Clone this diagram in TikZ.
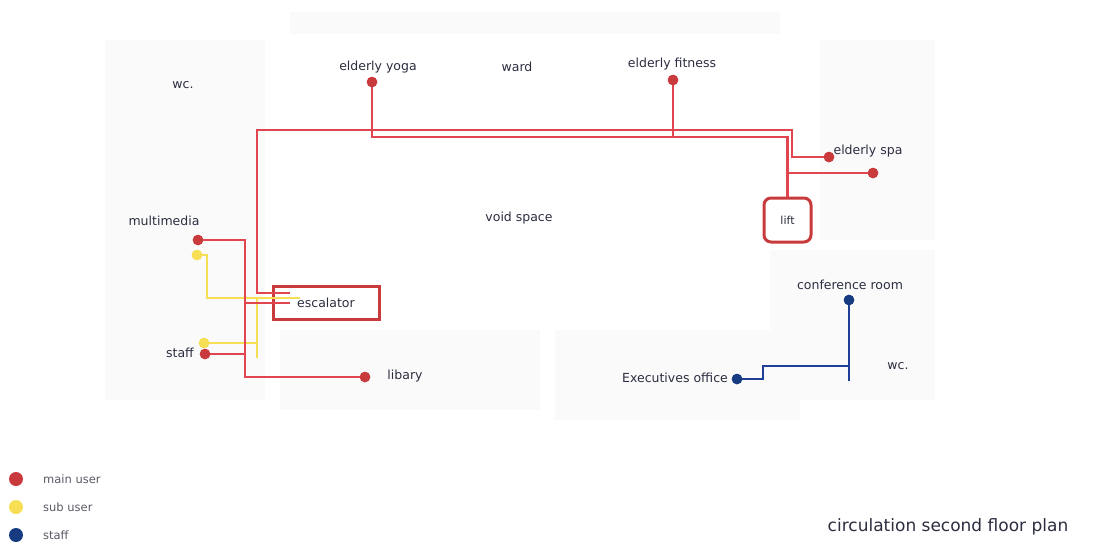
\documentclass[tikz,border=0pt]{standalone}
\usepackage{fontspec}
\setmainfont{DejaVu Sans}
\definecolor{lnred}{HTML}{E04550}
\definecolor{dotred}{HTML}{C93A3C}
\definecolor{lnyel}{HTML}{F6DE55}
\definecolor{lnblue}{HTML}{1F3E96}
\definecolor{dotblue}{HTML}{163B80}
\definecolor{labc}{HTML}{2C2E40}
\definecolor{legc}{HTML}{5A5A66}
\definecolor{bgc}{HTML}{FAFAFB}
\begin{document}
\begin{tikzpicture}[x=1pt,y=-1pt,
  lbl/.style={font=\fontsize{12.5}{14}\selectfont, text=labc, inner sep=0pt},
  leg/.style={font=\fontsize{11.5}{13}\selectfont, text=legc, inner sep=0pt, anchor=west},
  rdot/.style={circle, fill=dotred, minimum size=10.5pt, inner sep=0pt},
  ydot/.style={circle, fill=lnyel, minimum size=10.5pt, inner sep=0pt},
  bdot/.style={circle, fill=dotblue, minimum size=10.5pt, inner sep=0pt},
  rl/.style={draw=lnred, line width=2.2pt},
  yl/.style={draw=lnyel, line width=2.2pt},
  bl/.style={draw=lnblue, line width=2.2pt},
  bg/.style={fill=bgc, draw=none}]
\useasboundingbox (0,0) rectangle (1096,552);
\fill[white] (0,0) rectangle (1096,552);
% faint plan background
\fill[bg] (105,40) rectangle (265,400);
\fill[bg] (290,12) rectangle (780,34);
\fill[bg] (820,40) rectangle (935,240);
\fill[bg] (770,250) rectangle (935,400);
\fill[bg] (280,330) rectangle (540,410);
\fill[bg] (555,330) rectangle (800,420);

% labels
\node[lbl] (wc1) at (183,85) {wc.};
\node[lbl] (yogaT) at (378,67) {elderly yoga};
\node[lbl] (ward) at (517,67) {ward};
\node[lbl] (fitT) at (672,64) {elderly fitness};
\node[lbl] (spaT) at (868,151) {elderly spa};
\node[lbl] (void) at (519,218) {void space};
\node[lbl] (mmT) at (164,221) {multimedia};
\node[lbl] (staffT) at (180,353) {staff};
\node[lbl] (libT) at (405,376) {libary};
\node[lbl] (confT) at (850,285) {conference room};
\node[lbl] (wc2) at (898,366) {wc.};
\node[lbl] (exT) at (675,378) {Executives office};

% boxes
\node[draw=dotred, line width=3pt, minimum width=106pt, minimum height=33pt, inner sep=0pt, font=\fontsize{12.5}{14}\selectfont, text=labc] (esc) at (326,302.5) {escalator};
\node[draw=dotred, line width=3pt, rounded corners=7pt, minimum width=47pt, minimum height=44pt, inner sep=0pt, font=\fontsize{11}{13}\selectfont, text=labc] (lift) at (787.5,220) {lift};

% junction coordinates
\coordinate (o1) at (257,130);
\coordinate (o2) at (792,130);
\coordinate (i2) at (787.5,137);
\coordinate (e1) at (290,293);
\coordinate (e2) at (290,303);
\coordinate (e3) at (300,298);
\coordinate (m1) at (245,241);
\coordinate (y1) at (207,255);
\coordinate (y2) at (257,298);
\coordinate (y3) at (257,358);
\coordinate (b1) at (849,366);
\coordinate (b2) at (849,381);
\coordinate (b3) at (763,366);

% dots
\node[rdot] (yogaD) at (372,82) {};
\node[rdot] (fitD) at (673,80) {};
\node[rdot] (spaD) at (829,157) {};
\node[rdot] (sp2D) at (873,173) {};
\node[rdot] (mmD) at (198,240) {};
\node[ydot] (mmY) at (197,255) {};
\node[ydot] (stY) at (204,343) {};
\node[rdot] (stR) at (205,354) {};
\node[rdot] (libD) at (365,377) {};
\node[bdot] (confD) at (849,300) {};
\node[bdot] (exD) at (737,379) {};

% yellow connectors
\draw[yl] (mmY.center) -- (y1) |- (e3);
\draw[yl] (y2) -- (y3);
\draw[yl] (stY.center) -- (stY -| y2);

% red connectors
\draw[rl] (spaD.center) -| (o2) -- (o1) |- (e1);
\draw[rl] (yogaD.center) |- (i2) -- (lift.north);
\draw[rl] (fitD.center) -- (fitD |- i2);
\draw[rl] (sp2D.center) -- (sp2D -| i2);
\draw[rl] (mmD.center) -| (m1) |- (libD.center);
\draw[rl] (m1 |- e2) -- (e2);
\draw[rl] (stR.center) -- (stR -| m1);

% blue connectors
\draw[bl] (confD.center) -- (b2);
\draw[bl] (b1) -- (b3) |- (exD.center);

% redraw dots on top
\foreach \n/\s in {yogaD/rdot,fitD/rdot,spaD/rdot,sp2D/rdot,mmD/rdot,stR/rdot,libD/rdot,mmY/ydot,stY/ydot,confD/bdot,exD/bdot}
  \node[\s] at (\n) {};

% legend
\node[circle, fill=dotred, minimum size=14pt, inner sep=0pt] (lg1) at (16,479) {};
\node[circle, fill=lnyel, minimum size=14pt, inner sep=0pt] (lg2) at (16,507) {};
\node[circle, fill=dotblue, minimum size=14pt, inner sep=0pt] (lg3) at (16,535) {};
\node[leg] (lt1) at (43,479) {main user};
\node[leg] (lt2) at (43,507) {sub user};
\node[leg] (lt3) at (43,535) {staff};

% title
\node[font=\fontsize{17}{20}\selectfont, text=labc, inner sep=0pt] (title) at (948,527) {circulation second floor plan};
\end{tikzpicture}
\end{document}
